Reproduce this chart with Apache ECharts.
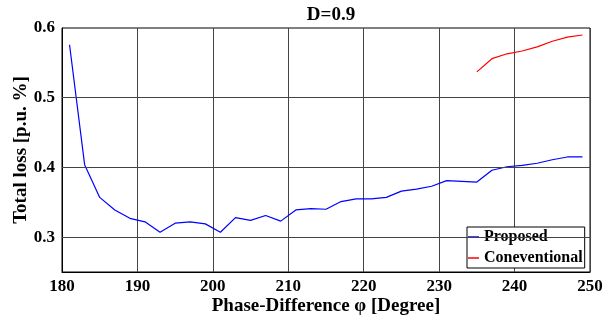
<!DOCTYPE html>
<html>
<head>
<meta charset="utf-8">
<script src="https://cdn.jsdelivr.net/npm/echarts@6/dist/echarts.min.js"></script>
<style>html,body{margin:0;padding:0;background:#fff}#c{width:606px;height:324px}</style>
</head>
<body>
<div id="c"></div>
<script>
var phaseProposed = [181,183,185,187,189,191,193,195,197,199,201,203,205,207,209,211,213,215,217,219,221,223,225,227,229,231,233,235,237,239,241,243,245,247,249];
var lossProposed = [0.576,0.404,0.357,0.339,0.327,0.322,0.307,0.320,0.322,0.319,0.307,0.328,0.324,0.331,0.323,0.339,0.341,0.340,0.351,0.355,0.355,0.357,0.366,0.369,0.373,0.381,0.380,0.379,0.396,0.401,0.403,0.406,0.411,0.415,0.415];
var phaseConventional = [235,237,239,241,243,245,247,249];
var lossConventional = [0.537,0.556,0.563,0.567,0.573,0.581,0.587,0.590];
var yTickValues = [0.3,0.4,0.5,0.6];
var yGridValues = [0.3,0.4,0.5];
var seriesNames = ['Proposed','Coneventional'];
var titleText = 'D=0.9';
var xName = 'Phase-Difference \u03c6 [Degree]';
var yName = 'Total loss [p.u. %]';

function zip(a,b){return a.map(function(v,i){return [v,b[i]];});}
var FONT = '"Liberation Serif","Times New Roman",serif';
var chart = echarts.init(document.getElementById('c'), null, {renderer:'canvas'});
chart.setOption({
  animation:false,
  backgroundColor:'#fff',
  title:{text:titleText,left:326,textAlign:'center',top:1,textStyle:{fontFamily:FONT,fontWeight:'bold',fontSize:19,color:'#000'}},
  grid:{left:62,right:16,top:28,bottom:52,show:true,borderColor:'#000',borderWidth:1,backgroundColor:'#fff',outerBoundsMode:'none',containLabel:false},
  legend:{
    orient:'vertical',left:467,top:227,
    data:[{name:seriesNames[0],icon:'rect'},{name:seriesNames[1],icon:'rect'}],
    itemWidth:11,itemHeight:1.5,itemGap:5,itemTextGap:2,
    padding:[2,2,2,1],
    borderColor:'#000',borderWidth:1,backgroundColor:'#fff',borderRadius:0,
    textStyle:{fontFamily:FONT,fontWeight:'bold',fontSize:16,color:'#000'}
  },
  xAxis:{type:'value',min:180,max:250,interval:10,
    name:xName,nameLocation:'middle',nameGap:25,nameMoveOverlap:false,
    nameTextStyle:{fontFamily:FONT,fontWeight:'bold',fontSize:19,color:'#000'},
    axisLine:{show:true,lineStyle:{color:'#000',width:1}},
    axisTick:{show:false},
    axisLabel:{margin:6,fontFamily:FONT,fontWeight:'bold',fontSize:17,color:'#000'},
    splitLine:{show:true,lineStyle:{color:'#444',width:1}}
  },
  yAxis:{type:'value',min:0.25,max:0.6,interval:0.05,
    name:yName,nameLocation:'middle',nameGap:31,nameMoveOverlap:false,
    nameTextStyle:{fontFamily:FONT,fontWeight:'bold',fontSize:19,color:'#000'},
    axisLine:{show:true,lineStyle:{color:'#000',width:1}},
    axisTick:{show:false},
    axisLabel:{margin:7,fontFamily:FONT,fontWeight:'bold',fontSize:17,color:'#000',
      formatter:function(v){
        for(var i=0;i<yTickValues.length;i++){ if(Math.abs(v-yTickValues[i])<1e-6) return yTickValues[i].toFixed(1);} return '';
      }},
    splitLine:{show:false}
  },
  series:[
    {name:seriesNames[0],type:'line',data:zip(phaseProposed,lossProposed),showSymbol:false,symbol:'none',
      lineStyle:{color:'#0000ff',width:1.2},itemStyle:{color:'#0000ff'},z:3,
      markLine:{silent:true,symbol:'none',label:{show:false},lineStyle:{color:'#444',width:1,type:'solid'},
        data:yGridValues.map(function(v){return {yAxis:v};})}},
    {name:seriesNames[1],type:'line',data:zip(phaseConventional,lossConventional),showSymbol:false,symbol:'none',
      lineStyle:{color:'#ff0000',width:1.2},itemStyle:{color:'#ff0000'},z:3}
  ]
});
</script>
</body>
</html>
